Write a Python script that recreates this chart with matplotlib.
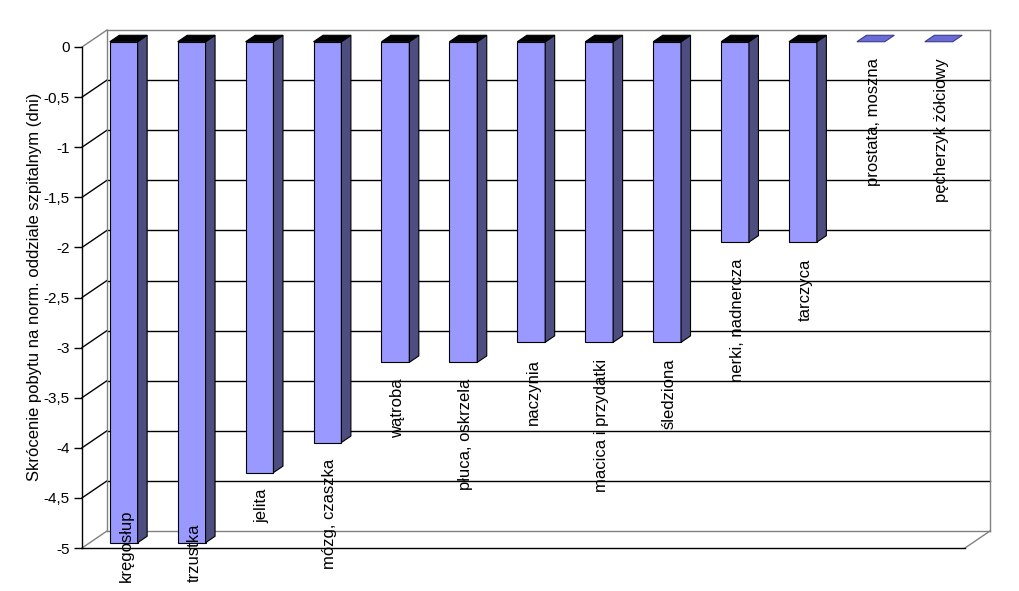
import matplotlib
matplotlib.use("Agg")
import matplotlib.pyplot as plt
import matplotlib.transforms as mtransforms
from matplotlib.patches import Polygon
from matplotlib.lines import Line2D
import numpy as np

categories = ["kręgosłup", "trzustka", "jelita", "mózg, czaszka", "wątroba",
              "płuca, oskrzela", "naczynia", "macica i przydatki", "śledziona",
              "nerki, nadnercza", "tarczyca", "prostata, moszna", "pęcherzyk żółciowy"]
values = [-5, -5, -4.3, -4, -3.2, -3.2, -3, -3, -3, -2, -2, 0, 0]
yticks = [0, -0.5, -1, -1.5, -2, -2.5, -3, -3.5, -4, -4.5, -5]
ylabel = "Skrócenie pobytu na norm. oddziale szpitalnym (dni)"

FRONT = "#9999FF"
SIDE = "#4D4D80"
TOPNEG = "#000000"
ZEROTOP = "#6B6BD6"
GREY = "#808080"

plt.rcParams['font.family'] = ['Liberation Sans', 'DejaVu Sans']

DPI = 100
W, H = 1020, 591
fig = plt.figure(figsize=(W / DPI, H / DPI), dpi=DPI, facecolor="white")
ax = fig.add_axes([82 / W, 43 / H, 883 / W, 501 / H])
n = len(categories)
ax.set_xlim(-0.5, n - 0.5)
ax.set_ylim(-5, 0)
ax.patch.set_visible(False)
for s in ["top", "right"]:
    ax.spines[s].set_visible(False)
ax.spines["left"].set_color("black")
ax.spines["bottom"].set_color("black")
ax.spines["left"].set_linewidth(1)
ax.spines["bottom"].set_linewidth(1)
ax.spines["left"].set_zorder(2)
ax.spines["bottom"].set_zorder(2)
ax.set_xticks([])
ax.set_yticks(yticks)
ax.set_yticklabels([("%g" % t).replace(".", ",") for t in yticks], fontsize=11)
ax.tick_params(axis="y", length=6, width=1, pad=3, colors="black")
ax.set_ylabel(ylabel, fontsize=12)
ax.yaxis.set_label_coords((42 - 82) / 883, 0.521)

# 3D depth vector in pixels (back wall offset)
DX, DY = 25.0, 17.0


def proj(x, y, d):
    px, py = ax.transData.transform((x, y))
    return (px + d * DX, py + d * DY)


ident = mtransforms.IdentityTransform()


def line3d(p0, p1, color, lw=1.0, z=1):
    a = proj(*p0)
    b = proj(*p1)
    ln = Line2D([a[0], b[0]], [a[1], b[1]], color=color, lw=lw,
                transform=ident, zorder=z, clip_on=False)
    ax.add_artist(ln)


def poly3d(pts, fc, ec="black", lw=0.8, z=3):
    p = Polygon([proj(*q) for q in pts], closed=True, facecolor=fc,
                edgecolor=ec, linewidth=lw, transform=ident, zorder=z,
                clip_on=False)
    ax.add_artist(p)


x0, x1 = -0.5, n - 0.5
# back wall gridlines and edges
for t in yticks:
    c = GREY if t in (0, -5) else "black"
    line3d((x0, t, 1), (x1, t, 1), c, z=1)
    line3d((x0, t, 0), (x0, t, 1), c, z=1)
line3d((x0, 0, 1), (x0, -5, 1), GREY, z=1)
line3d((x1, 0, 1), (x1, -5, 1), GREY, z=1)
line3d((x1, -5, 0), (x1, -5, 1), GREY, z=1)

# bars
wbar = 0.41
d0, d1 = 0.31, 0.69
for i, v in enumerate(values):
    xl, xr = i - wbar / 2, i + wbar / 2
    if v < 0:
        poly3d([(xl, v, d0), (xr, v, d0), (xr, 0, d0), (xl, 0, d0)], FRONT, z=4)
        poly3d([(xr, v, d0), (xr, v, d1), (xr, 0, d1), (xr, 0, d0)], SIDE, z=4)
        poly3d([(xl, 0, d0), (xr, 0, d0), (xr, 0, d1), (xl, 0, d1)], TOPNEG, z=4)
    else:
        poly3d([(xl, v, d0), (xr, v, d0), (xr, v, d1), (xl, v, d1)], ZEROTOP,
               ec="#3C3C8C", z=4)

# category labels
texts = []
for i, (lab, v) in enumerate(zip(categories, values)):
    t = ax.annotate(lab, xy=(i, v), xytext=(10, -11), textcoords="offset pixels",
                    rotation=90, ha="center", va="top", fontsize=12,
                    zorder=10, annotation_clip=False)
    texts.append(t)

fig.canvas.draw()
for t in texts:
    bb = t.get_window_extent()
    if bb.y0 < 9:
        xo, yo = t.xyann
        t.xyann = (xo, yo + (9 - bb.y0))

fig.savefig("out.png", dpi=DPI, facecolor="white")
